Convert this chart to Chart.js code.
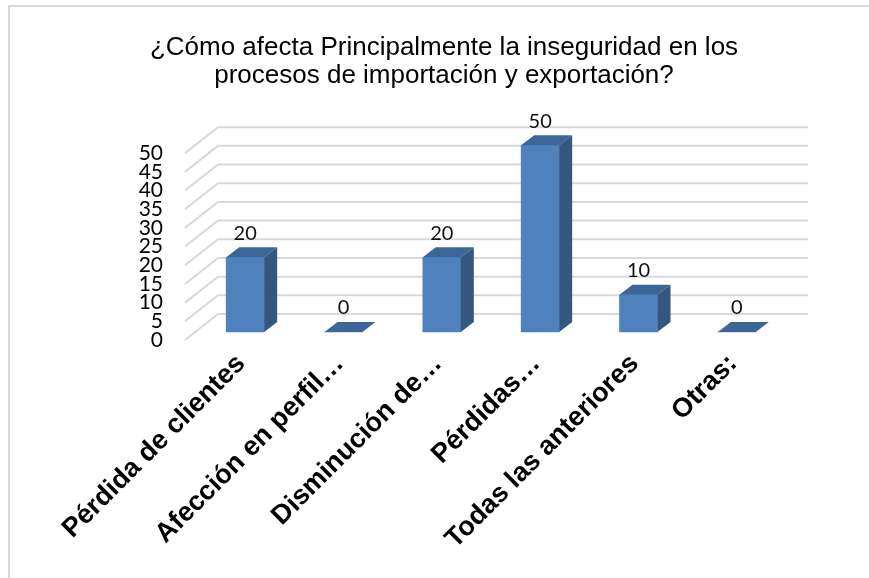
<!DOCTYPE html>
<html>
<head>
<meta charset="utf-8">
<script src="https://cdn.jsdelivr.net/npm/chart.js@4.4.1/dist/chart.umd.min.js"></script>
<style>
  body { margin: 0; background: #fff; }
  canvas { display: block; }
</style>
</head>
<body>
<canvas id="myChart" width="869" height="578"></canvas>
<script>
var categories = ['Pérdida de clientes', 'Afección en perfil…', 'Disminución de…', 'Pérdidas…', 'Todas las anteriores', 'Otras:'];
var values = [20, 0, 20, 50, 10, 0];
var yMin = 0, yMax = 50, yStep = 5;
var titleLines = ['¿Cómo afecta Principalmente la inseguridad en los', 'procesos de importación y exportación?'];

// 3d look: how far the bars and the back wall sit behind the front edge
var barShift = { x: 11, y: -8 };
var barDepth = { x: 13, y: -10 };
var wallDepth = { x: 33, y: -26 };

var faces = {
    id: 'faces',
    beforeDraw: function (chart) {
        var ctx = chart.ctx;
        ctx.save();
        ctx.fillStyle = '#fff';
        ctx.fillRect(0, 0, chart.width, chart.height);
        ctx.fillStyle = '#d9d9d9';
        ctx.fillRect(8, 5, chart.width - 8, 2);
        ctx.fillRect(8, 5, 2, chart.height - 5);
        ctx.restore();
    },
    beforeDatasetsDraw: function (chart) {
        var ctx = chart.ctx;
        var y = chart.scales.y;
        var area = chart.chartArea;
        ctx.save();
        ctx.strokeStyle = '#d9d9d9';
        ctx.lineWidth = 2;
        y.ticks.forEach(function (t) {
            var py = y.getPixelForValue(t.value);
            ctx.beginPath();
            ctx.moveTo(area.left, py);
            ctx.lineTo(area.left + wallDepth.x, py + wallDepth.y);
            ctx.lineTo(area.right + wallDepth.x, py + wallDepth.y);
            ctx.stroke();
        });
        ctx.restore();
        ctx.save();
        ctx.translate(barShift.x, barShift.y);
    },
    afterDatasetsDraw: function (chart) {
        var ctx = chart.ctx;
        var meta = chart.getDatasetMeta(0);
        meta.data.forEach(function (bar, i) {
            var p = bar.getProps(['x', 'y', 'base', 'width'], true);
            var l = p.x - p.width / 2, r = p.x + p.width / 2;
            // top
            ctx.fillStyle = '#3d6696';
            ctx.beginPath();
            ctx.moveTo(l, p.y);
            ctx.lineTo(r, p.y);
            ctx.lineTo(r + barDepth.x, p.y + barDepth.y);
            ctx.lineTo(l + barDepth.x, p.y + barDepth.y);
            ctx.closePath();
            ctx.fill();
            // side
            if (p.base - p.y > 0) {
                ctx.fillStyle = '#34567f';
                ctx.beginPath();
                ctx.moveTo(r, p.y);
                ctx.lineTo(r + barDepth.x, p.y + barDepth.y);
                ctx.lineTo(r + barDepth.x, p.base + barDepth.y);
                ctx.lineTo(r, p.base);
                ctx.closePath();
                ctx.fill();
            }
            // value
            ctx.fillStyle = '#111';
            ctx.font = '20px Lato';
            ctx.textAlign = 'center';
            ctx.textBaseline = 'middle';
            ctx.fillText(values[i], p.x, p.y - 24);
        });
        ctx.restore();
    }
};

var ctx = document.getElementById('myChart').getContext('2d');
var chart = new Chart(ctx, {
    type: 'bar',
    data: {
        labels: categories,
        datasets: [{
            data: values,
            backgroundColor: '#4f81bd',
            borderWidth: 0,
            barThickness: 38,
            clip: false
        }]
    },
    options: {
        responsive: false,
        animation: false,
        devicePixelRatio: 1,
        layout: { padding: { left: 113, right: 94, top: 0, bottom: 0 } },
        plugins: {
            legend: { display: false },
            tooltip: { enabled: false },
            title: {
                display: true,
                text: titleLines,
                color: '#000',
                font: { family: 'Liberation Sans', size: 26, weight: 'normal', lineHeight: 1.08 },
                padding: { top: 34, bottom: 63 }
            }
        },
        scales: {
            x: {
                grid: { display: false, drawTicks: false },
                border: { display: false },
                ticks: {
                    color: '#000',
                    font: { family: 'Liberation Sans', size: 27, weight: 'bold' },
                    minRotation: 45,
                    maxRotation: 45,
                    autoSkip: false,
                    padding: 8,
                    labelOffset: 7
                },
                afterFit: function (s) { s.height = 238; s.paddingLeft = 0; s.paddingRight = 0; }
            },
            y: {
                min: yMin,
                max: yMax,
                grid: { display: false, drawTicks: false },
                border: { display: false },
                ticks: {
                    stepSize: yStep,
                    autoSkip: false,
                    color: '#000',
                    font: { family: 'Lato', size: 21 },
                    padding: 22
                },
                afterFit: function (s) { s.width = 72; s.paddingTop = 0; s.paddingBottom = 0; }
            }
        }
    },
    plugins: [faces]
});
</script>
</body>
</html>
